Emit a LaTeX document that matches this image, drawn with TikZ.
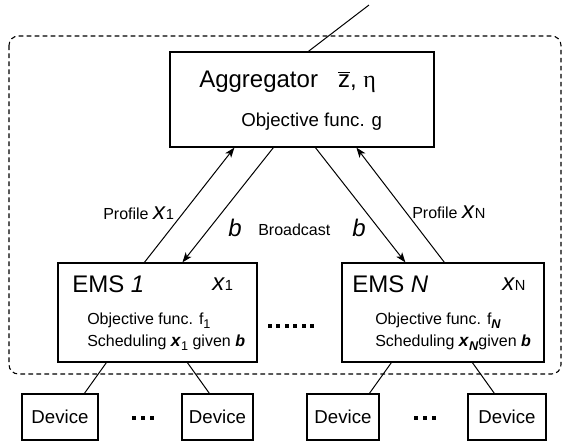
\documentclass[tikz,border=0pt]{standalone}
\usepackage{fontspec}
\setmainfont{Liberation Sans}
\newfontfamily\serifgr{Liberation Serif}
\usetikzlibrary{arrows.meta,calc}
\newcommand\bigsz{\fontsize{18}{20}\selectfont}
\newcommand\midsz{\fontsize{14}{16}\selectfont}
\newcommand\smsz{\fontsize{12}{14}\selectfont}
\newcommand\bsub[1]{{\fontsize{11}{11}\selectfont #1}}
\newcommand\msub[1]{\raisebox{-3pt}{\fontsize{9.5}{10}\selectfont #1}}
\begin{document}
\begin{tikzpicture}[x=0.75pt,y=-0.75pt,
  box/.style={draw,line width=0.9pt,inner sep=0pt},
  devbox/.style={box,minimum height=34.5pt,font=\midsz},
  lbl/.style={anchor=base west,inner sep=0pt},
  conn/.style={line width=0.75pt},
  arr/.style={conn,-{Stealth[length=7.5pt,width=5.5pt,inset=2pt]}},
  frame/.style={line width=0.8pt,dash pattern=on 3.5pt off 2.5pt,rounded corners=7pt}]
\useasboundingbox (0,0) rectangle (562,443);
% dashed frame
\draw[frame] (9,36) rectangle (561,374);
% boxes
\node[box,minimum width=198pt,minimum height=71.25pt] (agg) at (302,99.5) {};
\node[box,minimum width=149.25pt,minimum height=74.25pt] (ems1) at (157.5,312.5) {};
\node[box,minimum width=151.5pt,minimum height=74.25pt] (emsn) at (443,312.5) {};
\node[devbox,minimum width=57pt] (d1) at (60,417) {Device};
\node[devbox,minimum width=53.25pt] (d2) at (217.5,417) {Device};
\node[devbox,minimum width=54pt] (d3) at (343,417) {Device};
\node[devbox,minimum width=58.5pt] (d4) at (507,417) {Device};
% texts in aggregator
\node[lbl] (aggt) at (199,87) {\bigsz Aggregator\hspace{15pt}$\overline{\hbox{z}}$, {\serifgr η}};
\node[lbl] (aggo) at (241,126) {\midsz Objective func. g};
% EMS 1
\node[lbl] (e1t) at (72,292) {\bigsz EMS \textit{1}};
\node[lbl] (e1x) at (212,290) {\bigsz\textit{x}\bsub{1}};
\node[lbl] (e1o) at (87,324) {\smsz Objective func. f\msub{1}};
\node[lbl] (e1s) at (87,346) {\smsz Scheduling {\fontsize{13}{14}\selectfont\textbf{\textit{x}}}\msub{1} given \textbf{\textit{b}}};
% EMS N
\node[lbl] (ent) at (352,292) {\bigsz EMS \textit{N}};
\node[lbl] (enx) at (502,290) {\bigsz\textit{x}\bsub{N}};
\node[lbl] (eno) at (375,324) {\smsz Objective func. f\msub{\textbf{\textit{N}}}};
\node[lbl] (ens) at (375,346) {\smsz Scheduling {\fontsize{13}{14}\selectfont\textbf{\textit{x}}}\msub{\textbf{\textit{N}}}given \textbf{\textit{b}}};
% arrow labels
\node[lbl] (p1) at (103,219) {\smsz Profile \bigsz\textit{x}\bsub{1}};
\node[lbl] (pn) at (412,218) {\smsz Profile \bigsz\textit{x}\bsub{N}};
\node[lbl] (b1) at (228,236) {\bigsz\textit{b}};
\node[lbl] (bc) at (258,235) {\smsz Broadcast};
\node[lbl] (b2) at (352,236) {\bigsz\textit{b}};
% top line
\coordinate (top) at (369,5);
\draw[conn] ($(agg.north west)+(139,0)$) -- (top);
% arrows
\draw[arr] ($(ems1.north west)+(87,0)$) -- ($(agg.south west)+(65,0)$);
\draw[arr] ($(agg.south west)+(104,0)$) -- ($(ems1.north west)+(125,0)$);
\draw[arr] ($(agg.south west)+(146,0)$) -- ($(emsn.north west)+(64,0)$);
\draw[arr] ($(emsn.north west)+(103,0)$) -- ($(agg.south west)+(187,0)$);
% device connectors
\draw[conn] ($(ems1.south west)+(49,0)$) -- ($(d1.north west)+(63,0)$);
\draw[conn] ($(ems1.south west)+(130,0)$) -- ($(d2.north west)+(28,0)$);
\draw[conn] ($(emsn.south west)+(50,0)$) -- ($(d3.north west)+(63,0)$);
\draw[conn] ($(emsn.south west)+(131,0)$) -- ($(d4.north west)+(27,0)$);
% dots
\foreach \cx in {134,143,152,416,425,434}
  \fill (\cx-2,416) rectangle (\cx+2,420);
\foreach \k in {0,...,5}
  \fill ({268+8.4*\k},324) rectangle ({272+8.4*\k},328);
\end{tikzpicture}
\end{document}
